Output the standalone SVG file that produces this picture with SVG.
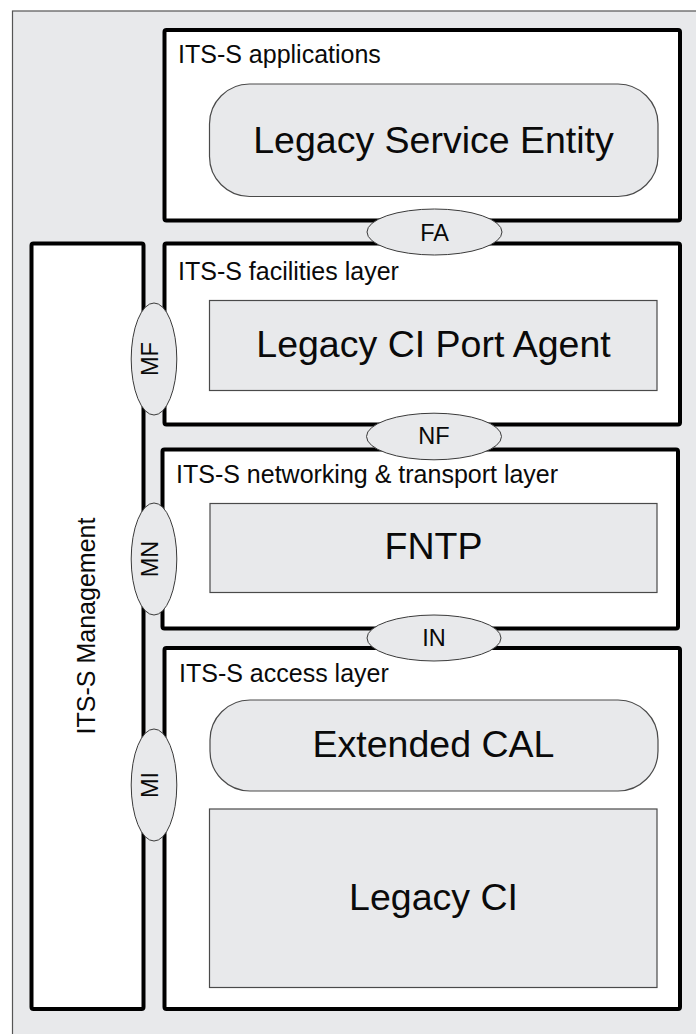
<svg xmlns="http://www.w3.org/2000/svg" width="696" height="1034" viewBox="0 0 696 1034">
<style>
.layer{fill:#ffffff;stroke:#000000;stroke-width:4}
.inner{fill:#e8e9eb;stroke:#4a4a4a;stroke-width:1.2}
.sap{fill:#e8e9eb;stroke:#3a3a3a;stroke-width:1}
.t{font-family:"Liberation Sans",Arial,sans-serif;fill:#0a0a0a}
.title{font-size:25px}
.big{font-size:37.5px;text-anchor:middle}
.if{font-size:23.5px;text-anchor:middle}
</style>
<rect x="0" y="0" width="696" height="1034" fill="#ffffff"/>
<rect id="frame" x="12.5" y="11" width="700" height="1040" fill="#e8e9eb" stroke="#555555" stroke-width="1.2"/>

<g id="management">
  <rect class="layer" x="31.5" y="243.5" width="112" height="765.5" rx="2"/>
  <text class="t title" transform="translate(95,626) rotate(-90)" text-anchor="middle" font-size="25.5px">ITS-S Management</text>
</g>

<g id="applications">
  <rect class="layer" x="164.5" y="30" width="515.5" height="190.5" rx="2"/>
  <text class="t title" x="178" y="63">ITS-S applications</text>
  <g id="legacy-service-entity">
    <rect class="inner" x="209.5" y="84" width="448.5" height="112.5" rx="40"/>
    <text class="t big" x="433.5" y="153">Legacy Service Entity</text>
  </g>
</g>

<g id="facilities">
  <rect class="layer" x="164.5" y="243.5" width="515.5" height="181" rx="2"/>
  <text class="t title" x="178" y="280">ITS-S facilities layer</text>
  <g id="legacy-ci-port-agent">
    <rect class="inner" x="209.5" y="300.5" width="447.5" height="90"/>
    <text class="t big" x="433.5" y="357">Legacy CI Port Agent</text>
  </g>
</g>

<g id="networking">
  <rect class="layer" x="162.5" y="449.5" width="515.5" height="179" rx="2"/>
  <text class="t title" x="176" y="483">ITS-S networking &amp; transport layer</text>
  <g id="fntp">
    <rect class="inner" x="210" y="503.5" width="447" height="89"/>
    <text class="t big" x="433.5" y="558.5">FNTP</text>
  </g>
</g>

<g id="access">
  <rect class="layer" x="164.5" y="648" width="515.5" height="361" rx="2"/>
  <text class="t title" x="179" y="682">ITS-S access layer</text>
  <g id="extended-cal">
    <rect class="inner" x="210" y="700" width="448" height="91" rx="40"/>
    <text class="t big" x="433.5" y="756.5">Extended CAL</text>
  </g>
  <g id="legacy-ci">
    <rect class="inner" x="209.5" y="809" width="447.5" height="178.5"/>
    <text class="t big" x="433.5" y="909.5">Legacy CI</text>
  </g>
</g>

<g id="sap-FA">
  <ellipse class="sap" cx="434.5" cy="232" rx="67.5" ry="23"/>
  <text class="t if" x="434.5" y="240.5">FA</text>
</g>
<g id="sap-NF">
  <ellipse class="sap" cx="434" cy="436.5" rx="67.5" ry="23.3"/>
  <text class="t if" x="434" y="444">NF</text>
</g>
<g id="sap-IN">
  <ellipse class="sap" cx="434" cy="638" rx="67" ry="23"/>
  <text class="t if" x="434" y="645.5">IN</text>
</g>
<g id="sap-MF">
  <ellipse class="sap" cx="154" cy="359" rx="22.8" ry="56"/>
  <text class="t if" transform="translate(158,359) rotate(-90)">MF</text>
</g>
<g id="sap-MN">
  <ellipse class="sap" cx="154" cy="559" rx="22.8" ry="56"/>
  <text class="t if" transform="translate(158,559) rotate(-90)">MN</text>
</g>
<g id="sap-MI">
  <ellipse class="sap" cx="154" cy="785" rx="22.8" ry="56"/>
  <text class="t if" transform="translate(158,785) rotate(-90)">MI</text>
</g>
<g id="connectors"></g>
</svg>
